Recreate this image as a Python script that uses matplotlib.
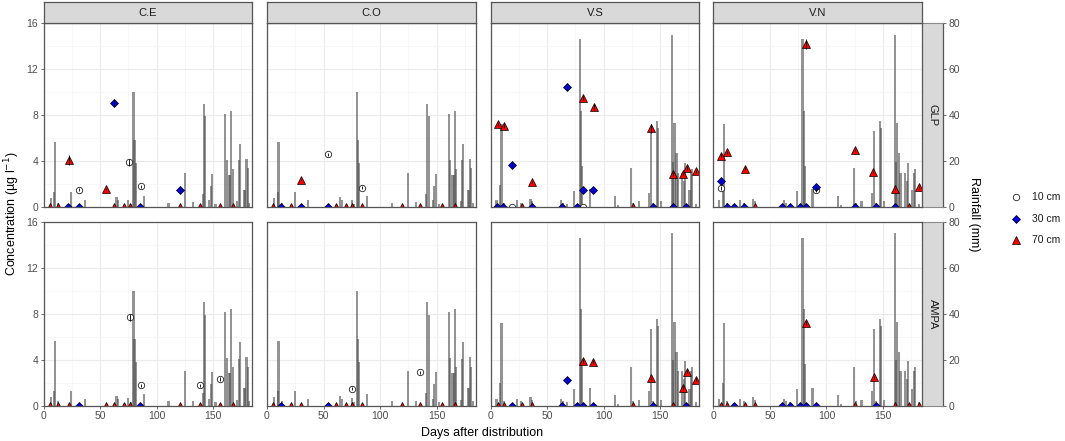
import matplotlib
matplotlib.use("Agg")
import matplotlib.pyplot as plt
from matplotlib.lines import Line2D
import numpy as np

plt.rcParams['font.family'] = ['Liberation Sans', 'DejaVu Sans']

# ---------------- data ----------------
SITES = ["C.E", "C.O", "V.S", "V.N"]
ANALYTES = ["GLP", "AMPA"]
DEPTHS = [10, 30, 70]
DEPTH_LABELS = ["10 cm", "30 cm", "70 cm"]
X_TICKS = [0, 50, 100, 150]
Y_TICKS = [0, 4, 8, 12, 16]
RAIN_TICKS = [0, 20, 40, 60, 80]

# rainfall (mm) for the C sites and the V sites
rain_c_day = [6.5, 9.5, 10.2, 13.0, 24.5, 36.5, 64.5, 66.0, 75.0, 77.0, 79.5, 80.5, 81.5, 88.5,
              110.5, 124.8, 131.8, 140.8, 141.8, 143.0, 146.5, 148.0, 149.2, 152.0, 160.8,
              162.0, 164.0, 165.0, 166.0, 167.2, 171.2, 172.5, 173.5, 177.5, 178.5, 179.5,
              180.5, 182.0]
rain_c_mm = [3.8, 6.5, 28.2, 2.0, 6.5, 3.0, 4.3, 3.0, 3.2, 1.5, 50.0, 29.0, 19.0, 5.0,
             2.0, 15.0, 2.2, 5.6, 45.0, 39.5, 3.0, 9.2, 14.6, 1.5, 40.6,
             20.7, 14.0, 14.0, 42.0, 16.8, 2.5, 20.5, 27.5, 7.5, 7.5, 21.0,
             17.0, 1.8]
rain_v_day = [5.3, 8.3, 9.7, 11.8, 23.6, 26.9, 35.4, 36.5, 62.6, 64.0, 68.0, 74.0, 78.8, 79.9,
              81.0, 87.7, 110.0, 113.0, 124.2, 125.8, 131.0, 140.3, 141.8, 144.0, 147.0, 148.0,
              151.0, 160.3, 161.2, 162.6, 164.4, 165.5, 169.4, 171.0, 172.0, 175.9, 177.4,
              178.5, 181.5]
rain_v_mm = [2.9, 9.8, 36.0, 1.9, 3.0, 1.9, 3.6, 2.5, 2.9, 1.9, 1.5, 7.2, 73.0, 42.0,
             18.0, 7.8, 4.8, 0.8, 17.0, 1.9, 2.6, 6.2, 33.2, 1.9, 37.5, 34.5,
             2.6, 75.0, 19.7, 36.4, 23.4, 15.0, 15.0, 11.5, 19.3, 7.4, 15.0,
             16.8, 1.5]

# concentrations (ug/l) per panel
ce_glp_day = [31.0, 76.0, 85.8, 21.6, 31.0, 62.0, 85.2, 120.7, 5.9, 12.4, 22.2, 55.0, 62.0,
              71.0, 76.3, 120.4, 138.5, 155.6, 167.8]
ce_glp_depth = [10, 10, 10, 30, 30, 30, 30, 30, 70, 70, 70, 70, 70, 70, 70, 70, 70, 70, 70]
ce_glp_conc = [1.5, 3.9, 1.8, 0, 0, 9.1, 0, 1.5, 0, 0, 4.1, 1.55, 0, 0, 0, 0, 0, 0, 0]
ce_glp_err = [0.12, 0.3, 0.12, 0, 0, 0.3, 0, 0.12, 0, 0, 0.4, 0.1, 0, 0, 0, 0, 0, 0, 0]

ce_ampa_day = [76.3, 85.8, 138.5, 155.6, 31.0, 85.2, 5.9, 12.4, 22.2, 55.0, 62.0, 71.0, 76.3,
               120.4, 138.5, 155.6, 167.8]
ce_ampa_depth = [10, 10, 10, 10, 30, 30, 70, 70, 70, 70, 70, 70, 70, 70, 70, 70, 70]
ce_ampa_conc = [7.7, 1.75, 1.75, 2.3, 0, 0, 0, 0, 0, 0, 0, 0, 0, 0, 0, 0, 0]
ce_ampa_err = [0.3, 0.12, 0.12, 0.2, 0, 0, 0, 0, 0, 0, 0, 0, 0, 0, 0, 0, 0]

co_glp_day = [54.0, 84.4, 12.1, 29.8, 54.0, 5.0, 21.0, 29.8, 61.4, 70.2, 75.2, 84.4, 119.5,
              135.7, 154.6, 166.4]
co_glp_depth = [10, 10, 30, 30, 30, 70, 70, 70, 70, 70, 70, 70, 70, 70, 70, 70]
co_glp_conc = [4.6, 1.7, 0, 0, 0, 0, 0, 2.35, 0, 0, 0, 0, 0, 0, 0, 0]
co_glp_err = [0.15, 0.12, 0, 0, 0, 0, 0, 0.1, 0, 0, 0, 0, 0, 0, 0, 0]

co_ampa_day = [75.2, 135.0, 12.1, 54.0, 5.0, 21.0, 29.8, 61.4, 70.2, 75.2, 84.4, 119.5, 135.7,
               154.6, 166.4]
co_ampa_depth = [10, 10, 30, 30, 70, 70, 70, 70, 70, 70, 70, 70, 70, 70, 70]
co_ampa_conc = [1.47, 2.9, 0, 0, 0, 0, 0, 0, 0, 0, 0, 0, 0, 0, 0]
co_ampa_err = [0.12, 0.12, 0, 0, 0, 0, 0, 0, 0, 0, 0, 0, 0, 0, 0]

vs_glp_day = [18.6, 81.5, 5.9, 11.2, 18.6, 36.3, 63.0, 68.0, 76.8, 81.8, 91.0, 144.0, 161.3,
              173.0, 6.8, 11.8, 27.5, 36.6, 82.1, 91.3, 125.8, 142.0, 161.3, 170.4, 173.4, 182.0]
vs_glp_depth = [10, 10, 30, 30, 30, 30, 30, 30, 30, 30, 30, 30, 30, 30,
                70, 70, 70, 70, 70, 70, 70, 70, 70, 70, 70, 70]
vs_glp_conc = [0, 0, 0, 0, 3.7, 0, 0, 10.45, 0, 1.5, 1.5, 0, 0, 0,
               7.2, 7.05, 0, 2.2, 9.5, 8.7, 0, 6.85, 2.9, 2.9, 3.4, 3.1]
vs_glp_err = [0, 0, 0, 0, 0.1, 0, 0, 0.2, 0, 0.1, 0.1, 0, 0, 0,
              0.15, 0.15, 0, 0.1, 0.2, 0.25, 0, 0.4, 0.15, 0.1, 0.15, 0.1]

vs_ampa_day = [18.6, 62.9, 68.0, 76.8, 81.8, 90.9, 144.0, 173.0, 6.8, 11.8, 27.8, 36.6, 82.0,
               91.0, 125.8, 142.0, 160.9, 170.0, 173.6, 182.0]
vs_ampa_depth = [30, 30, 30, 30, 30, 30, 30, 30, 70, 70, 70, 70, 70, 70, 70, 70, 70, 70, 70, 70]
vs_ampa_conc = [0, 0, 2.25, 0, 0, 0, 0, 0, 0, 0, 0, 0, 3.9, 3.8, 0, 2.37, 0, 1.53, 2.95, 2.25]
vs_ampa_err = [0, 0, 0.1, 0, 0, 0, 0, 0, 0, 0, 0, 0, 0.15, 0.15, 0, 0.15, 0, 0.15, 0.15, 0.15]

vn_glp_day = [6.8, 90.6, 6.8, 11.8, 18.5, 27.4, 61.0, 67.6, 76.5, 82.0, 90.6, 125.6, 143.8,
              161.0, 6.8, 12.0, 28.0, 36.8, 82.0, 125.6, 141.5, 161.0, 173.0, 181.5]
vn_glp_depth = [10, 10, 30, 30, 30, 30, 30, 30, 30, 30, 30, 30, 30, 30,
                70, 70, 70, 70, 70, 70, 70, 70, 70, 70]
vn_glp_conc = [1.68, 1.5, 2.27, 0, 0, 0, 0, 0, 0, 0, 1.77, 0, 0, 0,
               4.47, 4.76, 3.34, 0, 14.2, 4.97, 3.08, 1.57, 0, 1.74]
vn_glp_err = [0.15, 0.15, 0.1, 0, 0, 0, 0, 0, 0, 0, 0.1, 0, 0, 0,
              0.15, 0.15, 0.15, 0, 0.4, 0.1, 0.1, 0.1, 0, 0.1]

vn_ampa_day = [18.5, 61.0, 67.6, 76.5, 82.0, 90.6, 143.8, 6.8, 11.8, 28.0, 36.8, 82.0, 125.6,
               142.0, 161.0, 173.0, 181.8]
vn_ampa_depth = [30, 30, 30, 30, 30, 30, 30, 70, 70, 70, 70, 70, 70, 70, 70, 70, 70]
vn_ampa_conc = [0, 0, 0, 0, 0, 0, 0, 0, 0, 0, 0, 7.2, 0, 2.46, 0, 0, 0]
vn_ampa_err = [0, 0, 0, 0, 0, 0, 0, 0, 0, 0, 0, 0.2, 0, 0.15, 0, 0, 0]

PANELS = {
    ("C.E", "GLP"): (ce_glp_day, ce_glp_depth, ce_glp_conc, ce_glp_err),
    ("C.E", "AMPA"): (ce_ampa_day, ce_ampa_depth, ce_ampa_conc, ce_ampa_err),
    ("C.O", "GLP"): (co_glp_day, co_glp_depth, co_glp_conc, co_glp_err),
    ("C.O", "AMPA"): (co_ampa_day, co_ampa_depth, co_ampa_conc, co_ampa_err),
    ("V.S", "GLP"): (vs_glp_day, vs_glp_depth, vs_glp_conc, vs_glp_err),
    ("V.S", "AMPA"): (vs_ampa_day, vs_ampa_depth, vs_ampa_conc, vs_ampa_err),
    ("V.N", "GLP"): (vn_glp_day, vn_glp_depth, vn_glp_conc, vn_glp_err),
    ("V.N", "AMPA"): (vn_ampa_day, vn_ampa_depth, vn_ampa_conc, vn_ampa_err),
}
RAIN = {"C.E": (rain_c_day, rain_c_mm), "C.O": (rain_c_day, rain_c_mm),
        "V.S": (rain_v_day, rain_v_mm), "V.N": (rain_v_day, rain_v_mm)}

# ---------------- layout / style ----------------
W, H = 1065, 441
fig = plt.figure(figsize=(W / 100, H / 100), dpi=100)
fig.patch.set_facecolor('white')

PANEL_LEFT = [43.5, 267.0, 490.5, 713.3]
PANEL_W = 208.7
ROW_TOP = [23.3, 221.8]
PANEL_H = 183.8
STRIP_H = 21.5
RSTRIP_W = 21.0
X_MAX = 184.5

BORDER = '#555555'
STRIP_BORDER = '#8A8A8A'
TICK_COL = '#4D4D4D'
TICK_FS = 7.5
STRIP_FS = 8

MARKERS = {
    10: dict(marker='o', ms=4.6, mfc='white', mec='#222222', mew=0.6),
    30: dict(marker='D', ms=4.4, mfc='#0000EE', mec='black', mew=0.5),
    70: dict(marker='^', ms=6.2, mfc='#FF0000', mec='black', mew=0.5),
}


def add_ax(left, top, width, height):
    return fig.add_axes([left / W, 1 - (top + height) / H, width / W, height / H])


for r, analyte in enumerate(ANALYTES):
    # right strip with secondary (rainfall) axis (drawn first so the panel border sits on top)
    sr = add_ax(PANEL_LEFT[-1] + PANEL_W, ROW_TOP[r], RSTRIP_W, PANEL_H)
    sr.set_facecolor('#D9D9D9')
    sr.set_xticks([])
    sr.set_ylim(0, 80)
    sr.set_yticks(RAIN_TICKS)
    sr.yaxis.tick_right()
    sr.tick_params(axis='y', colors=BORDER, length=2.3, width=0.6,
                   labelcolor=TICK_COL, labelsize=TICK_FS, pad=1.5)
    sr.spines['left'].set_visible(False)
    for k in ('top', 'bottom'):
        sr.spines[k].set_color(STRIP_BORDER)
        sr.spines[k].set_linewidth(0.8)
    sr.spines['right'].set_color(BORDER)
    sr.spines['right'].set_linewidth(0.9)
    sr.text(0.5, 0.5, analyte, ha='center', va='center', rotation=-90,
            fontsize=STRIP_FS, color='#1A1A1A', transform=sr.transAxes)

    for c, site in enumerate(SITES):
        left, top = PANEL_LEFT[c], ROW_TOP[r]
        # rainfall axes (background)
        axr = add_ax(left, top, PANEL_W, PANEL_H)
        axr.set_xlim(0, X_MAX)
        axr.set_ylim(0, 80)
        axr.set_facecolor('white')
        axr.set_xticks(X_TICKS)
        axr.set_xticks([25, 75, 125, 175], minor=True)
        axr.set_yticks(RAIN_TICKS)
        axr.set_yticks([10, 30, 50, 70], minor=True)
        axr.grid(which='major', color='#EBEBEB', lw=0.8)
        axr.grid(which='minor', color='#F4F4F4', lw=0.5)
        axr.set_axisbelow(True)
        rd, rm = RAIN[site]
        axr.bar(rd, rm, width=1.9, color='#4D4D4D', alpha=0.6, linewidth=0, zorder=2)
        axr.tick_params(which='both', length=0, labelleft=False, labelbottom=False)
        for s in axr.spines.values():
            s.set_visible(False)

        # concentration axes (foreground)
        ax = add_ax(left, top, PANEL_W, PANEL_H)
        ax.patch.set_visible(False)
        ax.set_xlim(0, X_MAX)
        ax.set_ylim(0, 16)
        ax.set_xticks(X_TICKS)
        ax.set_yticks(Y_TICKS)
        day, depth, conc, err = [np.asarray(a, dtype=float) for a in PANELS[(site, analyte)]]
        for d in DEPTHS:
            m = depth == d
            ax.plot(day[m], conc[m], linestyle='none', zorder=3 + DEPTHS.index(d), **MARKERS[d])
        e = err > 0
        ax.vlines(day[e], conc[e] - err[e], conc[e] + err[e], color='black', lw=0.6, zorder=10)
        for s in ax.spines.values():
            s.set_color(BORDER)
            s.set_linewidth(0.9)
            s.set_zorder(12)
        ax.tick_params(axis='both', colors=BORDER, length=2.3, width=0.6,
                       labelcolor=TICK_COL, labelsize=TICK_FS, pad=1.5)
        if c != 0:
            ax.tick_params(axis='y', left=False, labelleft=False)
        if r != 1:
            ax.tick_params(axis='x', bottom=False, labelbottom=False)

        # top strips
        if r == 0:
            sa = add_ax(left, top - STRIP_H, PANEL_W, STRIP_H)
            sa.set_facecolor('#D9D9D9')
            sa.set_xticks([])
            sa.set_yticks([])
            for s in sa.spines.values():
                s.set_color(BORDER)
                s.set_linewidth(0.9)
            sa.text(0.5, 0.48, site, ha='center', va='center', fontsize=STRIP_FS,
                    color='#1A1A1A', transform=sa.transAxes)

# axis titles
fig.text(482.5 / W, 1 - 433 / H, "Days after distribution", ha='center', va='center', fontsize=9)
fig.text(12 / W, 1 - 214 / H, "Concentration (µg l$^{-1}$)", ha='center', va='center',
         rotation=90, fontsize=9)
fig.text(974 / W, 1 - 214 / H, "Rainfall (mm)", ha='center', va='center',
         rotation=-90, fontsize=9)

# legend
LEG_Y = [197, 219, 240]
for d, lab, yy in zip(DEPTHS, DEPTH_LABELS, LEG_Y):
    fig.add_artist(Line2D([1016 / W], [1 - yy / H], linestyle='none',
                          transform=fig.transFigure, **MARKERS[d]))
    fig.text(1032 / W, 1 - yy / H, lab, ha='left', va='center', fontsize=7.5, color='#1A1A1A')

fig.savefig("out.png", dpi=100)
